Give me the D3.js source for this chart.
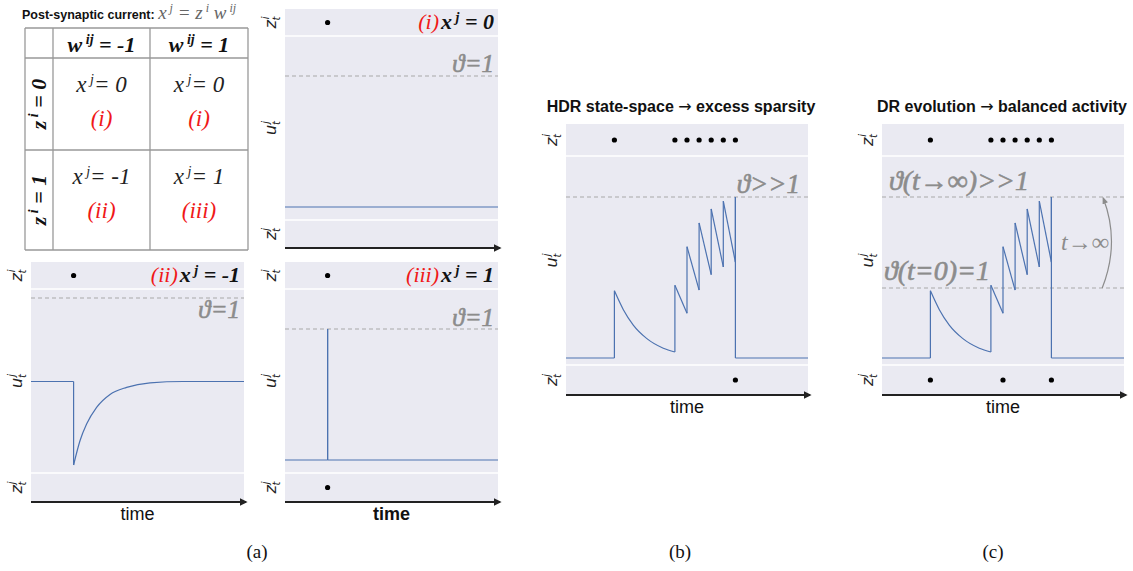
<!DOCTYPE html>
<html>
<head>
<meta charset="utf-8">
<script src="https://cdn.jsdelivr.net/npm/d3@7"></script>
<style>
  body { margin: 0; background: #fff; }
  svg { display: block; }
</style>
</head>
<body>
<svg id="fig" width="1133" height="571"></svg>
<script>
// ---- data (time 0..100, membrane in threshold units) ----
const tableCols = ['-1', '1']
const tableRows = ['0', '1']
const tableX = [['0', '0'], ['-1', '1']]
const tableCase = [['(i)', '(i)'], ['(ii)', '(iii)']]

const traceI = [[0, 0], [100, 0]]
const traceII = [[0, 0], [20, 0], [20, -1], [23, -0.71], [26.1, -0.51], [30.8, -0.31],
  [37.1, -0.155], [44.9, -0.07], [55.9, -0.016], [71.5, 0], [100, 0]]
const traceIII = [[0, 0], [20, 0], [20, 1], [20, 0], [100, 0]]
const traceBC = [[0, 0], [20, 0], [20, 0.96], [23.7, 0.69], [27.8, 0.47], [33.3, 0.28],
  [40.2, 0.14], [45, 0.086], [45, 1.04], [50, 0.64], [50, 1.59], [55, 0.97], [55, 1.93],
  [60, 1.19], [60, 2.13], [65, 1.3], [65, 2.24], [70, 1.37], [70, 2.3], [70, 0], [100, 0]]

const inSpikesA = [20]
const outSpikesIII = [20]
const inSpikesBC = [20, 45, 50, 55, 60, 65, 70]
const outSpikesB = [70]
const outSpikesC = [20, 50, 70]

const thetaLow = 1
const thetaHigh = 2.3

const blue = '#4c72b0'
const grey = '#8c8c8c'
const bg = '#eaeaf2'
const serif = '"Liberation Serif", "DejaVu Serif", serif'
const sans = '"Liberation Sans", Arial, sans-serif'

const svg = d3.select('#fig')
svg.append('rect').attr('width', 1133).attr('height', 571).attr('fill', '#fff')

svg.append('defs').append('marker')
  .attr('id', 'arrow')
  .attr('viewBox', '0 0 10 10')
  .attr('refX', 8).attr('refY', 5)
  .attr('markerWidth', 4).attr('markerHeight', 4)
  .attr('orient', 'auto')
  .append('path').attr('d', 'M0,0L10,5L0,10z').attr('fill', '#222')

svg.select('defs').append('marker')
  .attr('id', 'arrowGrey')
  .attr('viewBox', '0 0 10 10')
  .attr('refX', 8).attr('refY', 5)
  .attr('markerWidth', 6).attr('markerHeight', 6)
  .attr('orient', 'auto')
  .append('path').attr('d', 'M0,1L10,5L0,9z').attr('fill', grey)

// helper: rotated math-like label z_t^i / u_t^j
function yLabel(g, x, y, base, sub, sup) {
  const t = g.append('text')
    .attr('transform', `translate(${x},${y}) rotate(-90)`)
    .attr('text-anchor', 'middle')
    .attr('font-family', '"DejaVu Sans", sans-serif')
    .attr('font-style', 'italic')
    .attr('font-size', 16)
    .attr('fill', '#222')
  t.append('tspan').text(base)
  t.append('tspan').attr('font-size', 10).attr('dy', -7).attr('dx', 1).text(sup)
  t.append('tspan').attr('font-size', 10).attr('dy', 11).attr('dx', -4).text(sub)
}

// draw trace: runs split at vertical jumps, smooth within runs
function drawTrace(g, pts, x, y) {
  const line = d3.line().x(d => x(d[0])).y(d => y(d[1])).curve(d3.curveMonotoneX)
  const runs = [[pts[0]]]
  for (let i = 1; i < pts.length; i++) {
    if (pts[i][0] === pts[i - 1][0]) runs.push([pts[i]])
    else runs[runs.length - 1].push(pts[i])
  }
  runs.forEach((r, i) => {
    if (r.length > 1) g.append('path').attr('d', line(r))
      .attr('fill', 'none').attr('stroke', blue).attr('stroke-width', 1.2)
    if (i > 0) {
      const a = runs[i - 1][runs[i - 1].length - 1], b = r[0]
      g.append('line')
        .attr('x1', x(a[0])).attr('y1', y(a[1]))
        .attr('x2', x(b[0])).attr('y2', y(b[1]))
        .attr('stroke', blue).attr('stroke-width', 1.2)
    }
  })
}

function panel(p) {
  const g = svg.append('g')
  const x = d3.scaleLinear().domain([0, 100]).range([p.left, p.right])
  const y = d3.scaleLinear().domain(p.yDomain).range(p.yRange)

  g.append('rect')
    .attr('x', p.left).attr('y', p.top)
    .attr('width', p.right - p.left).attr('height', p.bottom - p.top)
    .attr('fill', bg)
  ;[p.line1, p.line2].forEach(v => g.append('line')
    .attr('x1', p.left).attr('x2', p.right).attr('y1', v).attr('y2', v)
    .attr('stroke', '#fff').attr('stroke-width', 1.3))

  p.thetas.forEach(th => g.append('line')
    .attr('x1', p.left).attr('x2', p.right)
    .attr('y1', y(th)).attr('y2', y(th))
    .attr('stroke', '#a8a8a8').attr('stroke-width', 1.2)
    .attr('stroke-dasharray', '4,3'))

  drawTrace(g, p.trace, x, y)

  const topY = (p.top + p.line1) / 2
  const botY = (p.line2 + p.bottom) / 2
  g.selectAll('.din').data(p.inSpikes).join('circle')
    .attr('cx', d => x(d)).attr('cy', topY).attr('r', 2.6).attr('fill', '#000')
  g.selectAll('.dout').data(p.outSpikes).join('circle')
    .attr('cx', d => x(d)).attr('cy', botY).attr('r', 2.6).attr('fill', '#000')

  // time axis arrow
  g.append('line')
    .attr('x1', p.left).attr('x2', p.right + 2)
    .attr('y1', p.bottom).attr('y2', p.bottom)
    .attr('stroke', '#222').attr('stroke-width', 2)
    .attr('marker-end', 'url(#arrow)')

  const lx = p.left - 9
  yLabel(g, lx, topY, 'z', 't', 'i')
  yLabel(g, lx, (p.line1 + p.line2) / 2, 'u', 't', 'j')
  yLabel(g, lx, botY, 'z', 't', 'j')

  if (p.timeLabel) {
    g.append('text')
      .attr('x', (p.left + p.right) / 2).attr('y', p.bottom + 18)
      .attr('text-anchor', 'middle')
      .attr('font-family', sans).attr('font-size', 18)
      .attr('font-weight', p.timeLabel === 'bold' ? 'bold' : 'normal')
      .attr('fill', '#111')
      .text('time')
  }
  return { g, x, y }
}

// ---- panel (a) table ----
const tbl = svg.append('g')
const title = tbl.append('text').attr('x', 22).attr('y', 19)
title.append('tspan').attr('font-family', sans).attr('font-weight', 'bold')
  .attr('font-size', 12.5).attr('fill', '#111').text('Post-synaptic current: ')
const tm = title.append('tspan').attr('font-family', serif).attr('font-style', 'italic')
  .attr('font-size', 19).attr('fill', '#666')
tm.append('tspan').text('x')
tm.append('tspan').attr('font-size', 12).attr('dy', -7).text(' j')
tm.append('tspan').attr('dy', 7).text(' = z')
tm.append('tspan').attr('font-size', 12).attr('dy', -7).text(' i')
tm.append('tspan').attr('dy', 7).text(' w')
tm.append('tspan').attr('font-size', 12).attr('dy', -7).text(' ij')

const colEdges = [25, 53, 150, 248]
const rowEdges = [28, 58, 150, 250]
colEdges.forEach(v => tbl.append('line').attr('x1', v).attr('x2', v)
  .attr('y1', rowEdges[0]).attr('y2', rowEdges[3]).attr('stroke', '#999').attr('stroke-width', 1.3))
rowEdges.forEach(v => tbl.append('line').attr('y1', v).attr('y2', v)
  .attr('x1', colEdges[0]).attr('x2', colEdges[3]).attr('stroke', '#999').attr('stroke-width', 1.3))

tableCols.forEach((c, j) => {
  const t = tbl.append('text')
    .attr('x', (colEdges[j + 1] + colEdges[j + 2]) / 2).attr('y', 52)
    .attr('text-anchor', 'middle').attr('font-family', serif)
    .attr('font-style', 'italic').attr('font-weight', 'bold').attr('font-size', 22).attr('fill', '#111')
  t.append('tspan').text('w')
  t.append('tspan').attr('font-size', 14).attr('dy', -8).text(' ij')
  t.append('tspan').attr('dy', 8).text(' = ' + c)
})
tableRows.forEach((r, i) => {
  const cy = (rowEdges[i + 1] + rowEdges[i + 2]) / 2
  const t = tbl.append('text')
    .attr('transform', `translate(46,${cy}) rotate(-90)`)
    .attr('text-anchor', 'middle').attr('font-family', serif)
    .attr('font-style', 'italic').attr('font-weight', 'bold').attr('font-size', 22).attr('fill', '#111')
  t.append('tspan').text('z')
  t.append('tspan').attr('font-size', 14).attr('dy', -8).text(' i')
  t.append('tspan').attr('dy', 8).text(' = ' + r)
  tableCols.forEach((c, j) => {
    const cx = (colEdges[j + 1] + colEdges[j + 2]) / 2
    const xt = tbl.append('text').attr('x', cx).attr('y', rowEdges[i + 1] + 34)
      .attr('text-anchor', 'middle').attr('font-family', serif)
      .attr('font-style', 'italic').attr('font-size', 23).attr('fill', '#222')
    xt.append('tspan').text('x')
    xt.append('tspan').attr('font-size', 14).attr('dy', -8).text(' j')
    xt.append('tspan').attr('dy', 8).text('= ' + tableX[i][j])
    tbl.append('text').attr('x', cx).attr('y', rowEdges[i + 1] + 68)
      .attr('text-anchor', 'middle').attr('font-family', serif)
      .attr('font-style', 'italic').attr('font-size', 23).attr('fill', '#f01818')
      .text(tableCase[i][j])
  })
})

// annotation: red case + bold x^j = v, right aligned
function caseNote(g, xr, y, cs, v) {
  const t = g.append('text').attr('x', xr).attr('y', y).attr('text-anchor', 'end')
    .attr('font-family', serif).attr('font-style', 'italic').attr('font-size', 22)
  t.append('tspan').attr('fill', '#f01818').text(cs)
  t.append('tspan').attr('fill', '#111').attr('font-weight', 'bold').attr('dx', 2).text('x')
  t.append('tspan').attr('fill', '#111').attr('font-weight', 'bold').attr('font-size', 14).attr('dy', -7).text(' j')
  t.append('tspan').attr('fill', '#111').attr('font-weight', 'bold').attr('dy', 7).text(' = ' + v)
}
function thetaNote(g, xr, y, txt, size, anchor) {
  g.append('text').attr('x', xr).attr('y', y).attr('text-anchor', anchor || 'end')
    .attr('font-family', serif).attr('font-style', 'italic').attr('font-size', size || 25)
    .attr('fill', grey).attr('stroke', grey).attr('stroke-width', 0.6).text(txt)
}

const pI = panel({ left: 285, right: 498, top: 9, bottom: 248, line1: 36, line2: 220,
  yDomain: [0, 1], yRange: [207, 76], thetas: [thetaLow], trace: traceI,
  inSpikes: inSpikesA, outSpikes: [] })
caseNote(pI.g, 494, 29, '(i)', '0')
thetaNote(pI.g, 494, 72, 'ϑ=1')

const pII = panel({ left: 31, right: 244, top: 262, bottom: 502, line1: 289, line2: 473,
  yDomain: [-1, 1], yRange: [465, 298], thetas: [thetaLow], trace: traceII,
  inSpikes: inSpikesA, outSpikes: [], timeLabel: 'normal' })
caseNote(pII.g, 240, 282, '(ii)', '-1')
thetaNote(pII.g, 240, 318, 'ϑ=1')

const pIII = panel({ left: 285, right: 498, top: 262, bottom: 502, line1: 289, line2: 473,
  yDomain: [0, 1], yRange: [460, 329], thetas: [thetaLow], trace: traceIII,
  inSpikes: inSpikesA, outSpikes: outSpikesIII, timeLabel: 'bold' })
caseNote(pIII.g, 494, 282, '(iii)', '1')
thetaNote(pIII.g, 494, 326, 'ϑ=1')

// ---- panel (b) ----
const pB = panel({ left: 566, right: 808, top: 124, bottom: 395, line1: 156, line2: 365,
  yDomain: [0, 1], yRange: [358, 288], thetas: [thetaHigh], trace: traceBC,
  inSpikes: inSpikesBC, outSpikes: outSpikesB, timeLabel: 'normal' })
thetaNote(pB.g, 800, 193, 'ϑ>>1', 27)

function panelTitle(cx, a, b) {
  const t = svg.append('text').attr('x', cx).attr('y', 112).attr('text-anchor', 'middle')
    .attr('font-family', sans).attr('font-weight', 'bold').attr('font-size', 16).attr('fill', '#111')
  t.append('tspan').text(a + ' ')
  t.append('tspan').attr('font-family', '"DejaVu Sans", sans-serif').attr('font-weight', 'normal').text('→')
  t.append('tspan').text(' ' + b)
}
panelTitle(681, 'HDR state-space', 'excess sparsity')

// ---- panel (c) ----
const pC = panel({ left: 882, right: 1124, top: 124, bottom: 395, line1: 156, line2: 365,
  yDomain: [0, 1], yRange: [358, 288], thetas: [thetaLow, thetaHigh], trace: traceBC,
  inSpikes: inSpikesBC, outSpikes: outSpikesC, timeLabel: 'normal' })
thetaNote(pC.g, 889, 190, 'ϑ(t→∞)>>1', 28, 'start')
thetaNote(pC.g, 884, 280, 'ϑ(t=0)=1', 28, 'start')
const ax = pC.x(91)
pC.g.append('path')
  .attr('d', `M${ax},${pC.y(thetaLow)} Q${ax + 18},${(pC.y(thetaLow) + pC.y(thetaHigh)) / 2} ${ax + 1},${pC.y(thetaHigh) + 1}`)
  .attr('fill', 'none').attr('stroke', grey).attr('stroke-width', 1.2)
  .attr('marker-end', 'url(#arrowGrey)')
pC.g.append('text').attr('x', 1061).attr('y', 250)
  .attr('font-family', serif).attr('font-style', 'italic').attr('font-size', 24)
  .attr('fill', grey).text('t→∞')
panelTitle(1002, 'DR evolution', 'balanced activity')

// ---- captions ----
;[['(a)', 257], ['(b)', 680], ['(c)', 993]].forEach(([s, cx]) =>
  svg.append('text').attr('x', cx).attr('y', 558).attr('text-anchor', 'middle')
    .attr('font-family', serif).attr('font-size', 19).attr('fill', '#111').text(s))
</script>
</body>
</html>
